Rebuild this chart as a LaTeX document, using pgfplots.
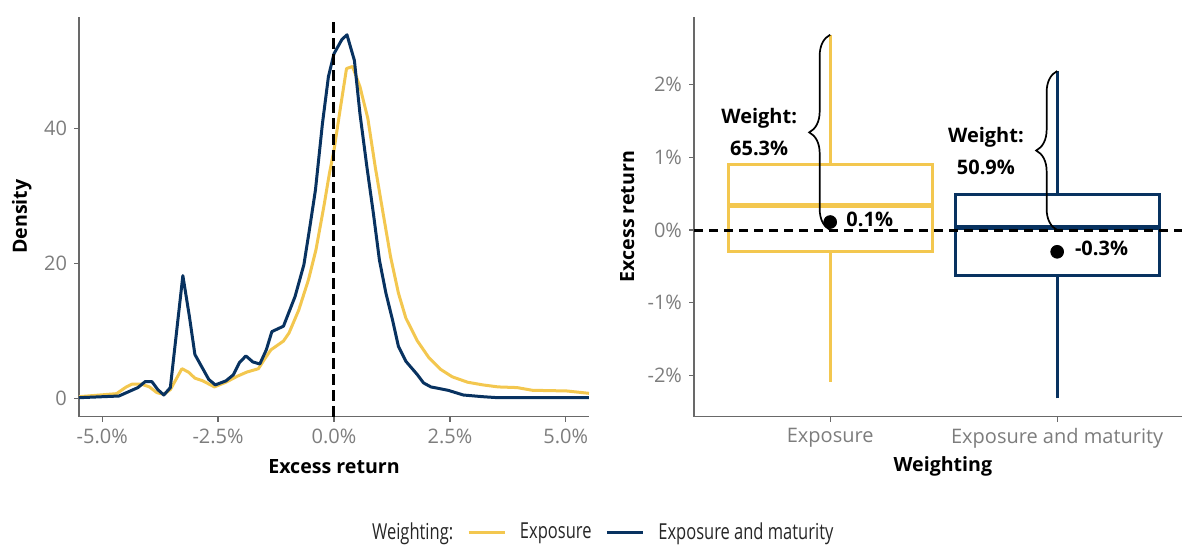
\documentclass[border=0pt]{standalone}
\usepackage{fontspec}
\setmainfont{Open Sans}
\newfontfamily\condfont[FakeStretch=0.75]{Open Sans}
\usepackage{pgfplots}
\pgfplotsset{compat=1.18}
\usepackage{pgfplotstable}
\usetikzlibrary{decorations.pathreplacing}
\definecolor{cyellow}{RGB}{243,199,79}
\definecolor{cnavy}{RGB}{8,50,96}
\definecolor{tickgray}{RGB}{125,125,125}
\definecolor{axgray}{RGB}{105,105,105}

\pgfplotstableread{
x y
-5.50 0.10
-4.64 0.35
-4.23 1.6
-4.07 2.5
-3.93 2.5
-3.80 1.3
-3.67 0.5
-3.53 1.6
-3.26 18.2
-3.12 12.2
-3.00 6.5
-2.70 2.8
-2.56 2.0
-2.33 2.6
-2.17 3.5
-2.04 5.3
-1.90 6.3
-1.75 5.4
-1.60 5.1
-1.46 7.2
-1.34 9.9
-1.09 10.7
-0.84 15.1
-0.65 19.8
-0.53 25.0
-0.40 30.9
-0.25 40.7
-0.12 47.7
0.00 51.1
0.17 53.2
0.28 53.9
0.44 50.1
0.56 42.2
0.71 34.3
0.85 27.4
0.98 20.5
1.12 15.6
1.26 11.7
1.39 7.7
1.55 5.5
1.80 3.5
1.93 2.3
2.09 1.7
2.46 1.2
2.79 0.5
3.21 0.25
3.54 0.1
5.50 0.1
}\navydens

\pgfplotstableread{
x y
-5.50 0.25
-4.69 0.7
-4.48 1.7
-4.36 2.1
-4.15 2.1
-3.98 1.7
-3.82 0.85
-3.67 0.6
-3.53 1.3
-3.28 4.4
-3.14 3.9
-3.00 3.0
-2.83 2.6
-2.58 1.7
-2.33 2.4
-2.08 3.3
-1.88 3.9
-1.63 4.4
-1.50 5.8
-1.36 7.2
-1.09 8.5
-0.97 9.7
-0.76 13.1
-0.55 17.6
-0.39 22.0
-0.22 28.4
-0.10 33.3
0.00 36.8
0.13 42.7
0.27 48.9
0.40 49.2
0.56 46.2
0.73 41.5
0.89 34.3
1.06 27.4
1.22 21.0
1.39 15.6
1.55 11.9
1.80 8.5
2.05 6.0
2.30 4.3
2.55 3.2
2.88 2.4
3.21 2.0
3.54 1.7
3.95 1.6
4.28 1.2
5.02 1.1
5.50 0.75
}\yellowdens

\pgfplotsset{
 mystyle/.style={
  scale only axis,
  axis x line*=bottom, axis y line*=left,
  axis line style={axgray, line width=0.6pt, -},
  tick align=outside,
  major tick length=2.5pt,
  every tick/.style={axgray, line width=0.6pt},
  tick label style={font=\fontsize{10}{12}\selectfont, text=tickgray},
  label style={font=\fontsize{9.8}{12}\selectfont\bfseries},
  clip=false,
 }
}

\begin{document}
\begin{tikzpicture}
\useasboundingbox (0,0) rectangle (591pt,272.5pt);

% Left panel
\begin{axis}[mystyle,
  at={(39.5pt,64.2pt)}, anchor=south west,
  width=255pt, height=200pt,
  xmin=-5.5, xmax=5.5, ymin=-2.7, ymax=56.6,
  xtick={-5,-2.5,0,2.5,5},
  xticklabels={-5.0\%,-2.5\%,0.0\%,2.5\%,5.0\%},
  ytick={0,20,40}, yticklabels={0,20,40},
  xlabel={Excess return}, ylabel={Density},
  xlabel style={at={(axis description cs:0.5,-0.125)}, anchor=center},
  ylabel style={at={(axis description cs:-0.112,0.5)}, anchor=center},
  legend style={at={(axis description cs:1.027,-0.29)}, anchor=center,
    draw=none, fill=none, legend columns=3,
    font=\condfont\fontsize{11}{13}\selectfont, text=black!85,
    /tikz/every even column/.append style={column sep=5pt}},
  legend image code/.code={\draw[#1, line width=1.4pt] (0pt,0pt) -- (18pt,0pt);},
  legend cell align=left,
]
\addlegendimage{empty legend}
\addlegendentry{Weighting:}
\addplot[cyellow, line width=1.5pt, line join=round] table[x=x,y=y] {\yellowdens};
\addlegendentry{\hspace{5pt}Exposure}
\addplot[cnavy, line width=1.5pt, line join=round] table[x=x,y=y] {\navydens};
\addlegendentry{\hspace{5pt}Exposure and maturity}
\addplot[black, line width=1.5pt, dash pattern=on 5.5pt off 2.5pt, forget plot] coordinates {(0,-2.7) (0,56.6)};
\end{axis}

% Right panel
\begin{axis}[mystyle,
  at={(347pt,64.2pt)}, anchor=south west,
  width=244pt, height=200pt,
  xmin=0.4, xmax=2.55, ymin=-2.57, ymax=2.94,
  xtick={1,2}, xticklabels={Exposure, Exposure and maturity},
  ytick={-2,-1,0,1,2}, yticklabels={-2\%,-1\%,0\%,1\%,2\%},
  xlabel={Weighting}, ylabel={Excess return},
  xlabel style={at={(axis description cs:0.51,-0.125)}, anchor=center},
  ylabel style={at={(axis description cs:-0.137,0.5)}, anchor=center},
]
% Exposure box
\addplot[cyellow, line width=1.5pt] coordinates {(1,-2.09) (1,-0.29)};
\addplot[cyellow, line width=1.5pt] coordinates {(1,0.907) (1,2.69)};
\addplot[cyellow, line width=1.5pt] coordinates {(0.55,-0.29) (1.45,-0.29) (1.45,0.907) (0.55,0.907)} -- cycle;
\addplot[cyellow, line width=2.6pt] coordinates {(0.55,0.34) (1.45,0.34)};
% Exposure and maturity box
\addplot[cnavy, line width=1.5pt] coordinates {(2,-2.32) (2,-0.62)};
\addplot[cnavy, line width=1.5pt] coordinates {(2,0.495) (2,2.19)};
\addplot[cnavy, line width=1.5pt] coordinates {(1.55,-0.62) (2.45,-0.62) (2.45,0.495) (1.55,0.495)} -- cycle;
\addplot[cnavy, line width=2.6pt] coordinates {(1.55,0.03) (2.45,0.03)};
% zero line
\addplot[black, line width=1.5pt, dash pattern=on 4.5pt off 3pt] coordinates {(0.4,0) (2.55,0)};
\draw[decorate, decoration={brace, amplitude=10.5pt}, line width=0.85pt] (axis cs:1,0) -- (axis cs:1,2.69);
\draw[decorate, decoration={brace, amplitude=10.5pt}, line width=0.85pt] (axis cs:2,0) -- (axis cs:2,2.19);
\addplot[only marks, mark=*, mark size=3.2pt, black] coordinates {(1,0.11) (2,-0.30)};
\node[font=\fontsize{10}{16}\selectfont\bfseries, align=center] at (axis cs:0.687,1.35) {Weight:\\65.3\%};
\node[font=\fontsize{10}{16}\selectfont\bfseries, align=center] at (axis cs:1.686,1.086) {Weight:\\50.9\%};
\node[font=\fontsize{10}{12}\selectfont\bfseries, anchor=west, inner sep=0pt] at (axis cs:1.07,0.15) {0.1\%};
\node[font=\fontsize{10}{12}\selectfont\bfseries, anchor=west, inner sep=0pt] at (axis cs:2.077,-0.254) {-0.3\%};
\end{axis}
\end{tikzpicture}
\end{document}
